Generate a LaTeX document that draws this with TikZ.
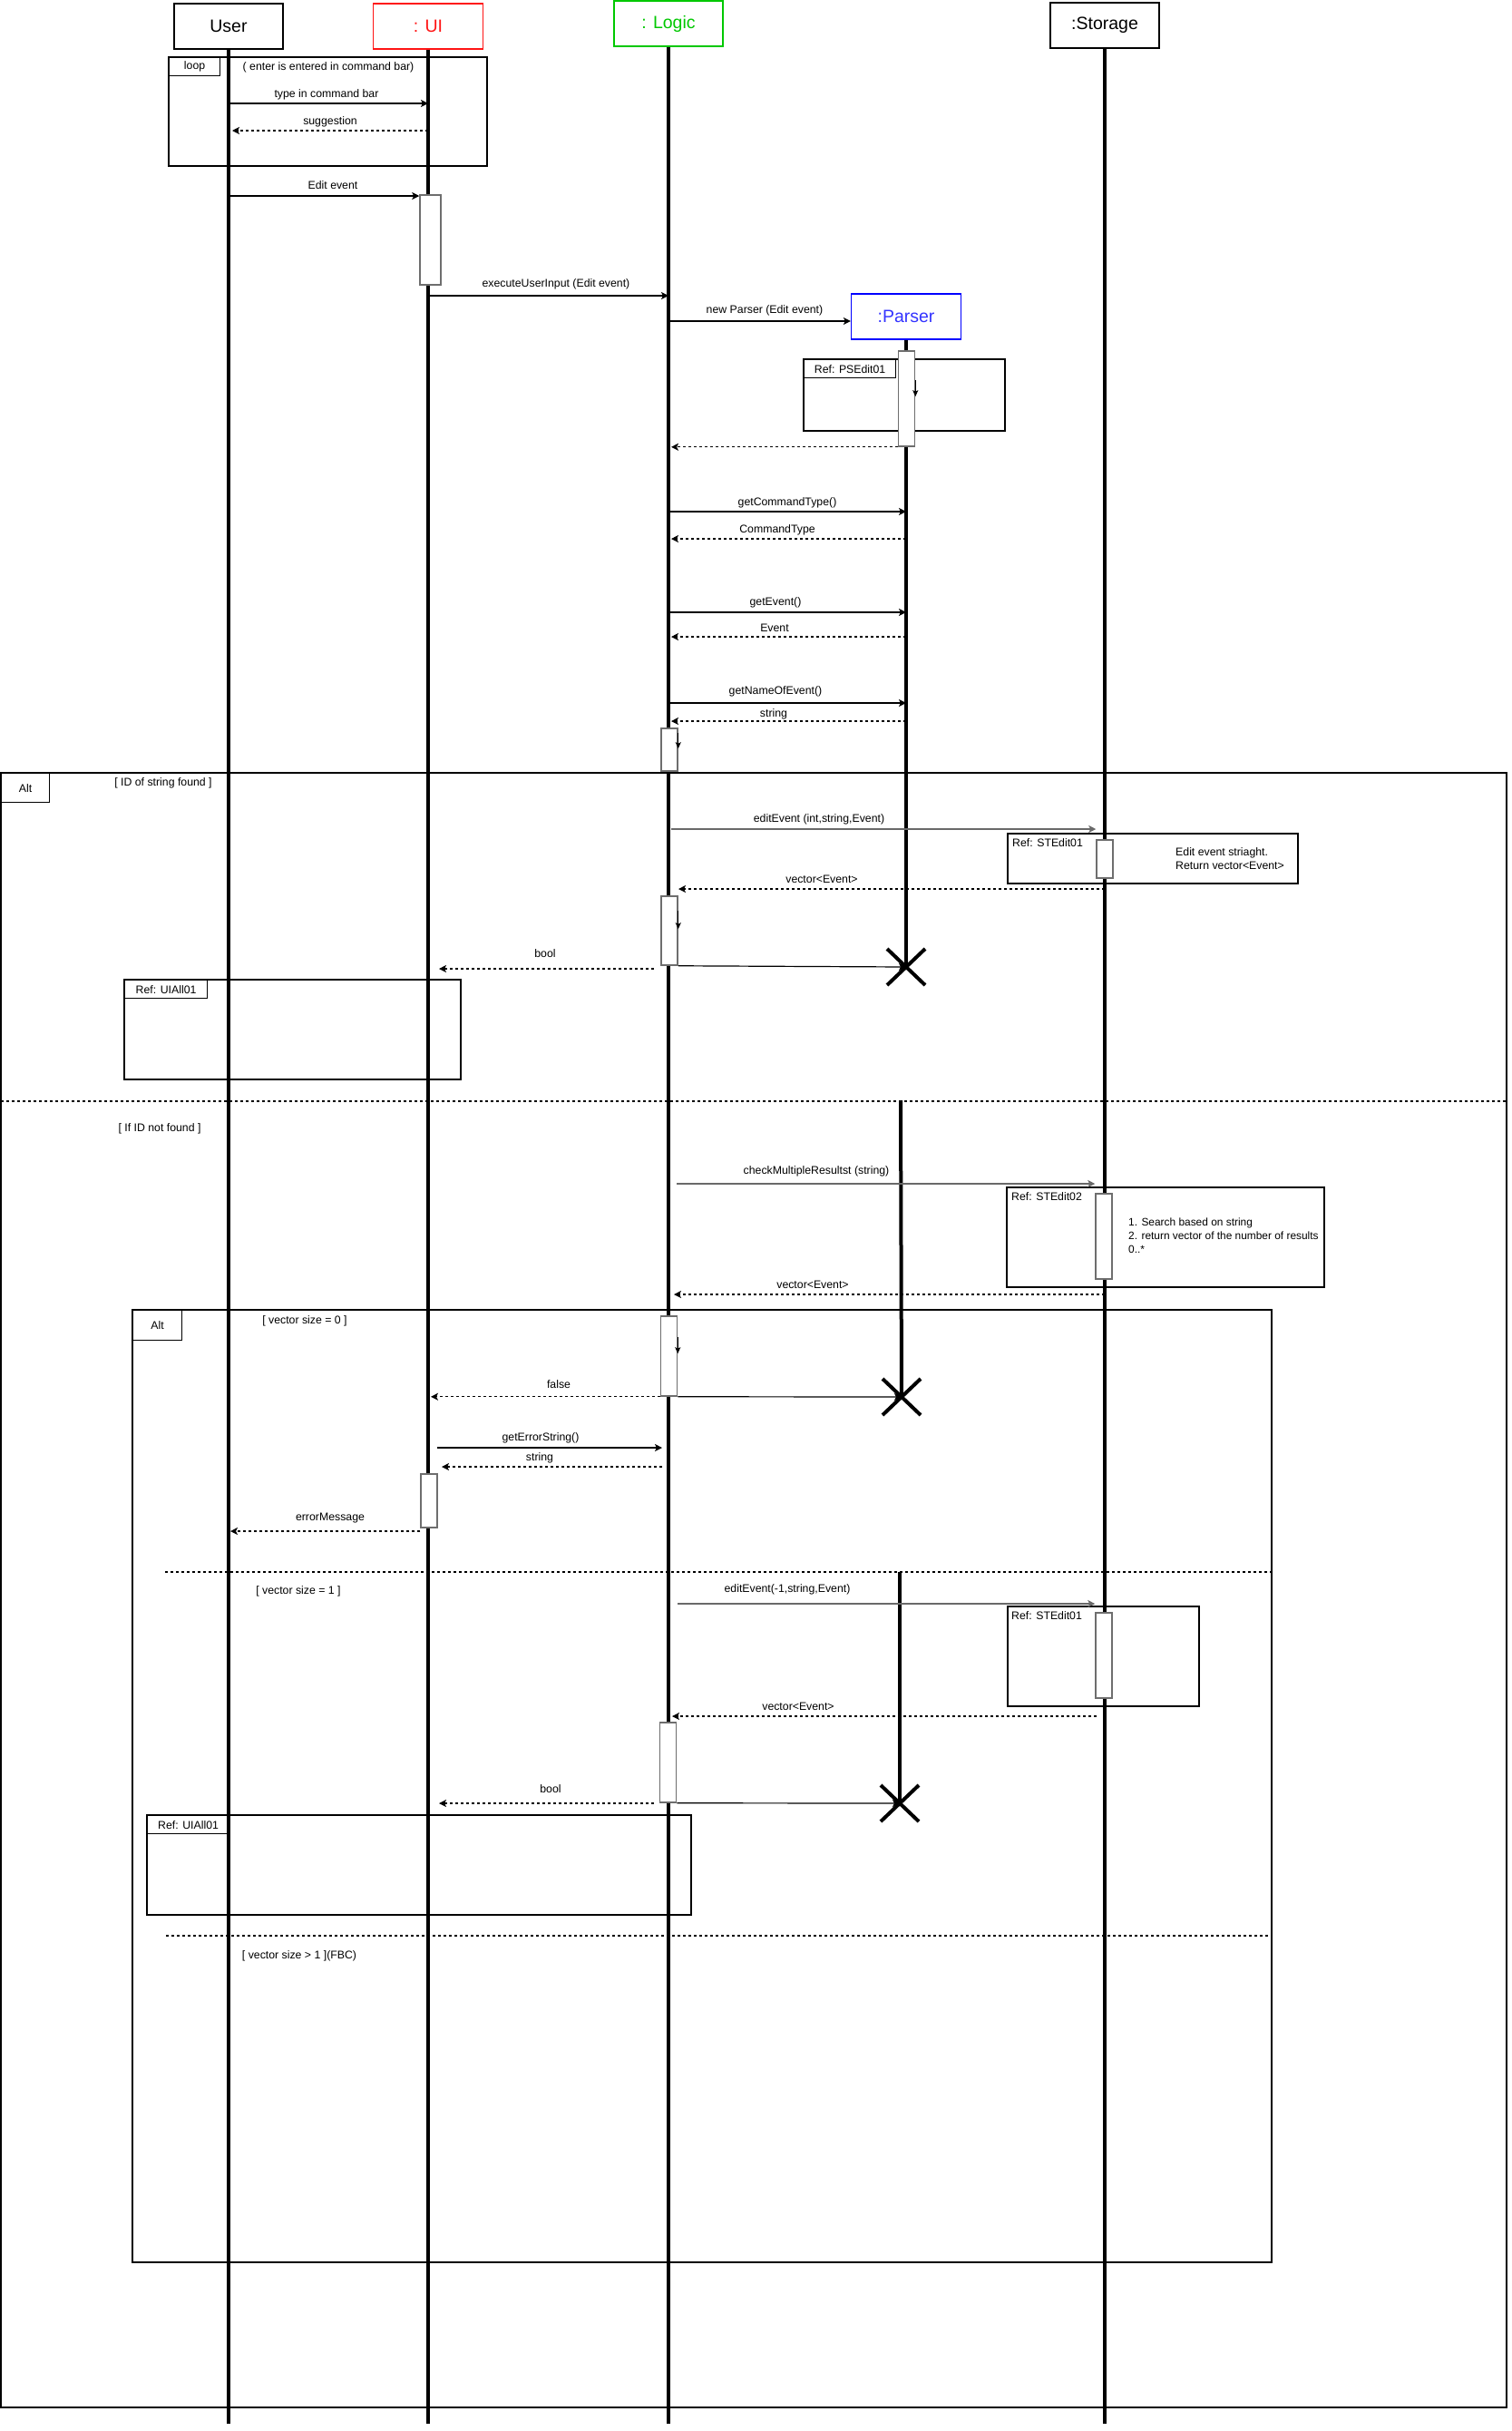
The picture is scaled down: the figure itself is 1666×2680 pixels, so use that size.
\documentclass[tikz,border=0pt]{standalone}
\usepackage{fontspec}
\setmainfont{Liberation Sans}
\usetikzlibrary{arrows.meta,shapes.misc}
\definecolor{uired}{RGB}{255,20,20}
\definecolor{logicgreen}{RGB}{0,200,0}
\definecolor{parserblue}{RGB}{0,0,255}
\definecolor{parsertext}{RGB}{51,51,255}
\definecolor{actgray}{RGB}{110,110,110}
\definecolor{msggray}{RGB}{105,105,105}
\begin{document}
\begin{tikzpicture}[x=1pt,y=-1pt,
  every node/.style={inner sep=0pt},
  head/.style={draw, line width=1.3pt, fill=white, minimum width=120pt, minimum height=50pt,
    font=\fontsize{19.5}{23}\selectfont},
  life/.style={line width=4pt},
  lbl/.style={font=\fontsize{12.3}{15}\selectfont},
  msg/.style={line width=1.2pt, -{Stealth[length=8pt,width=8pt,inset=2pt]}},
  ret/.style={msg, dash pattern=on 3pt off 3pt},
  tick/.style={line width=1pt, -{Stealth[length=7pt,width=6pt,inset=1.5pt]}},
  act/.style={draw=actgray, fill=white, line width=1.5pt, minimum width=18pt},
  frame/.style={draw, line width=1.2pt},
  tagbox/.style={draw, line width=1.2pt, fill=white, anchor=north west,
    font=\fontsize{12.3}{15}\selectfont},
  sep/.style={line width=1.2pt, dash pattern=on 3pt off 3pt},
  destroy/.style={draw, cross out, line width=4pt, minimum width=38pt, minimum height=36pt}
]
\useasboundingbox (0,0) rectangle (1666,2680);
\fill[white] (0,0) rectangle (1666,2680);

% ---------- frames ----------
\draw[frame] (186,63) rectangle (537,183);
\draw[frame] (886,396) rectangle (1108,475);
\draw[frame] (1,852) rectangle (1661,2654);
\draw[frame] (1111,919) rectangle (1431,974);
\draw[frame] (137,1080) rectangle (508,1190);
\draw[sep] (1,1214) -- (1661,1214);
\draw[frame] (1110,1309) rectangle (1460,1419);
\draw[frame] (146,1444) rectangle (1402,2494);
\draw[sep] (182,1733) -- (1402,1733);
\draw[frame] (1111,1771) rectangle (1322,1881);
\draw[frame] (162,2001) rectangle (762,2111);
\draw[sep] (183,2134) -- (1402,2134);

% ---------- frame tags ----------
\node[tagbox, minimum width=56pt, minimum height=20pt] (looptag) at (186,63) {loop};
\node[tagbox, minimum width=101pt, minimum height=20pt] (pstag) at (886,396) {Ref: PSEdit01};
\node[tagbox, minimum width=53pt, minimum height=32pt] (alttag1) at (1,852) {Alt};
\node[tagbox, minimum width=91pt, minimum height=20pt] (uitag1) at (137,1080) {Ref: UIAll01};
\node[tagbox, minimum width=54pt, minimum height=33pt] (alttag2) at (146,1444) {Alt};
\node[tagbox, minimum width=90pt, minimum height=20pt] (uitag2) at (162,2001) {Ref: UIAll01};

% ---------- heads ----------
\node[head] (user) at (252,29) {User};
\node[head, draw=uired, text=uired, minimum width=121pt] (ui) at (472,29) {: UI};
\node[head, draw=logicgreen, text=logicgreen] (logic) at (737,26) {: Logic};
\node[head] (storage) at (1218,28) {:Storage};
\node[head, draw=parserblue, text=parsertext, minimum width=121pt] (parser) at (999,349) {:Parser};

% ---------- later parser lifeline starts ----------
\coordinate (p2top) at (993,1213);
\coordinate (p3top) at (992,1733);

% ---------- lifelines ----------
\draw[life] (user.south) -- (user |- 0,2672);
\draw[life] (ui.south) -- (ui |- 0,2672);
\draw[life] (logic.south) -- (logic |- 0,2672);
\draw[life] (storage.south) -- (storage |- 0,2672);
\draw[life] (parser.south) -- (999,1066) coordinate (x1c);
\draw[life] (p2top) -- (994,1540) coordinate (x2c);
\draw[life] (p3top) -- (992,1988) coordinate (x3c);

% ---------- activations ----------
\node[act, minimum width=23pt, minimum height=99pt] (uia1) at (474.5,264.5) {};
\node[act, minimum height=105pt] (pa1) at (999.5,439.5) {};
\node[act, minimum height=47pt] (la1) at (738,826.5) {};
\node[act, minimum height=42pt] (sa1) at (1218,947) {};
\node[act, minimum height=76pt] (la2) at (738,1026) {};
\node[act, minimum height=94pt] (sa2) at (1217,1363) {};
\node[act, minimum height=88pt] (la3) at (737.5,1495) {};
\node[act, minimum height=59pt] (uia2) at (473,1654.5) {};
\node[act, minimum height=94pt] (sa3) at (1217,1825) {};
\node[act, minimum height=88pt] (la4) at (736.5,1943) {};

% self-call ticks
\draw[tick] ([yshift=-33pt]pa1.north east) -- ([yshift=-51pt]pa1.north east);
\draw[tick] ([yshift=-6pt]la1.north east) -- ([yshift=-23pt]la1.north east);
\draw[tick] ([yshift=-17pt]la2.north east) -- ([yshift=-37pt]la2.north east);
\draw[tick] ([yshift=-24pt]la3.north east) -- ([yshift=-42pt]la3.north east);

% ---------- messages ----------
\draw[msg] (user |- 0,114) -- (ui |- 0,114);
\draw[ret] (ui |- 0,144) -- ([xshift=4pt]user |- 0,144);
\draw[msg] (user |- 0,216) -- (uia1.west |- 0,216);
\draw[msg] (ui |- 0,326) -- (logic |- 0,326);
\draw[msg] (logic |- 0,354) -- (parser.west |- 0,354);
\draw[ret] (pa1.south west) -- ([xshift=3pt]logic |- pa1.south);
\draw[msg] (logic |- 0,564) -- (parser |- 0,564);
\draw[ret] (parser |- 0,594) -- ([xshift=3pt]logic |- 0,594);
\draw[msg] (logic |- 0,675) -- (parser |- 0,675);
\draw[ret] (parser |- 0,702) -- ([xshift=3pt]logic |- 0,702);
\draw[msg] (logic |- 0,775) -- (parser |- 0,775);
\draw[ret] (parser |- 0,795) -- ([xshift=3pt]logic |- 0,795);

\draw[msg, draw=msggray] ([xshift=3pt]logic |- 0,914) -- (sa1.west |- 0,914);
\draw[ret] (storage |- 0,980) -- ([xshift=11pt]logic |- 0,980);
\draw[ret] ([xshift=-16pt]logic |- 0,1068) -- ([xshift=12pt]ui |- 0,1068);
\draw[msg] (la2.south east) -- (x1c);

\draw[msg, draw=msggray] ([xshift=9pt]logic |- 0,1305) -- (sa2.west |- 0,1305);
\draw[ret] (storage |- 0,1427) -- ([xshift=6pt]logic |- 0,1427);
\draw[ret] (la3.south west) -- ([xshift=3pt]ui |- la3.south);
\draw[msg] (la3.south east) -- (x2c);
\draw[msg] ([xshift=10pt]ui |- 0,1596) -- ([xshift=-7pt]logic |- 0,1596);
\draw[ret] ([xshift=-7pt]logic |- 0,1617) -- ([xshift=15pt]ui |- 0,1617);
\draw[ret] (uia2.west |- 0,1688) -- ([xshift=2pt]user |- 0,1688);

\draw[msg, draw=msggray] ([xshift=10pt]logic |- 0,1768) -- (sa3.west |- 0,1768);
\draw[ret] ([xshift=-9pt]storage |- 0,1892) -- ([xshift=4pt]logic |- 0,1892);
\draw[ret] ([xshift=-16pt]logic |- 0,1988) -- ([xshift=12pt]ui |- 0,1988);
\draw[msg] (la4.south east) -- (x3c);

% ---------- destroy marks ----------
\node[destroy] (x1) at (x1c) {};
\node[destroy] (x2) at (x2c) {};
\node[destroy] (x3) at (x3c) {};

% ---------- labels ----------
\node[lbl] (c1) at (362,74) {( enter is entered in command bar)};
\node[lbl] (l1) at (360,104) {type in command bar};
\node[lbl] (l2) at (364,134) {suggestion};
\node[lbl] (l3) at (367,204) {Edit event};
\node[lbl] (l4) at (613,313) {executeUserInput (Edit event)};
\node[lbl] (l5) at (843,342) {new Parser (Edit event)};
\node[lbl] (l6) at (868,554) {getCommandType()};
\node[lbl] (l7) at (857,584) {CommandType};
\node[lbl] (l8) at (855,664) {getEvent()};
\node[lbl] (l9) at (854,692) {Event};
\node[lbl] (l10) at (855,762) {getNameOfEvent()};
\node[lbl] (l11) at (853,787) {string};

\node[lbl] (c2) at (180,863) {[ ID of string found ]};
\node[lbl] (l12) at (903,903) {editEvent (int,string,Event)};
\node[lbl, anchor=west] (r1) at (1116,929) {Ref: STEdit01};
\node[lbl, anchor=west, align=left] (n1) at (1296,946.5) {Edit event striaght.\\Return vector<Event>};
\node[lbl] (l13) at (906,969) {vector<Event>};
\node[lbl] (l14) at (601,1051) {bool};

\node[lbl] (c3) at (176,1244) {[ If ID not found ]};
\node[lbl] (l15) at (900,1291) {checkMultipleResultst (string)};
\node[lbl, anchor=west] (r2) at (1115,1319) {Ref: STEdit02};
\node[lbl, anchor=west, align=left, font=\fontsize{11.9}{15}\selectfont] (n2) at (1244,1362) {1. Search based on string\\2. return vector of the number of results\\0..*};
\node[lbl] (l16) at (896,1416) {vector<Event>};

\node[lbl] (c4) at (336,1456) {[ vector size = 0 ]};
\node[lbl] (l17) at (616,1526) {false};
\node[lbl] (l18) at (596,1585) {getErrorString()};
\node[lbl] (l19) at (595,1607) {string};
\node[lbl] (l20) at (364,1674) {errorMessage};

\node[lbl] (c5) at (329,1754) {[ vector size = 1 ]};
\node[lbl] (l21) at (868,1752) {editEvent(-1,string,Event)};
\node[lbl, anchor=west] (r3) at (1115,1781) {Ref: STEdit01};
\node[lbl] (l22) at (880,1881) {vector<Event>};
\node[lbl] (l23) at (607,1972) {bool};

\node[lbl] (c6) at (330,2156) {[ vector size > 1 ](FBC)};
\end{tikzpicture}
\end{document}
